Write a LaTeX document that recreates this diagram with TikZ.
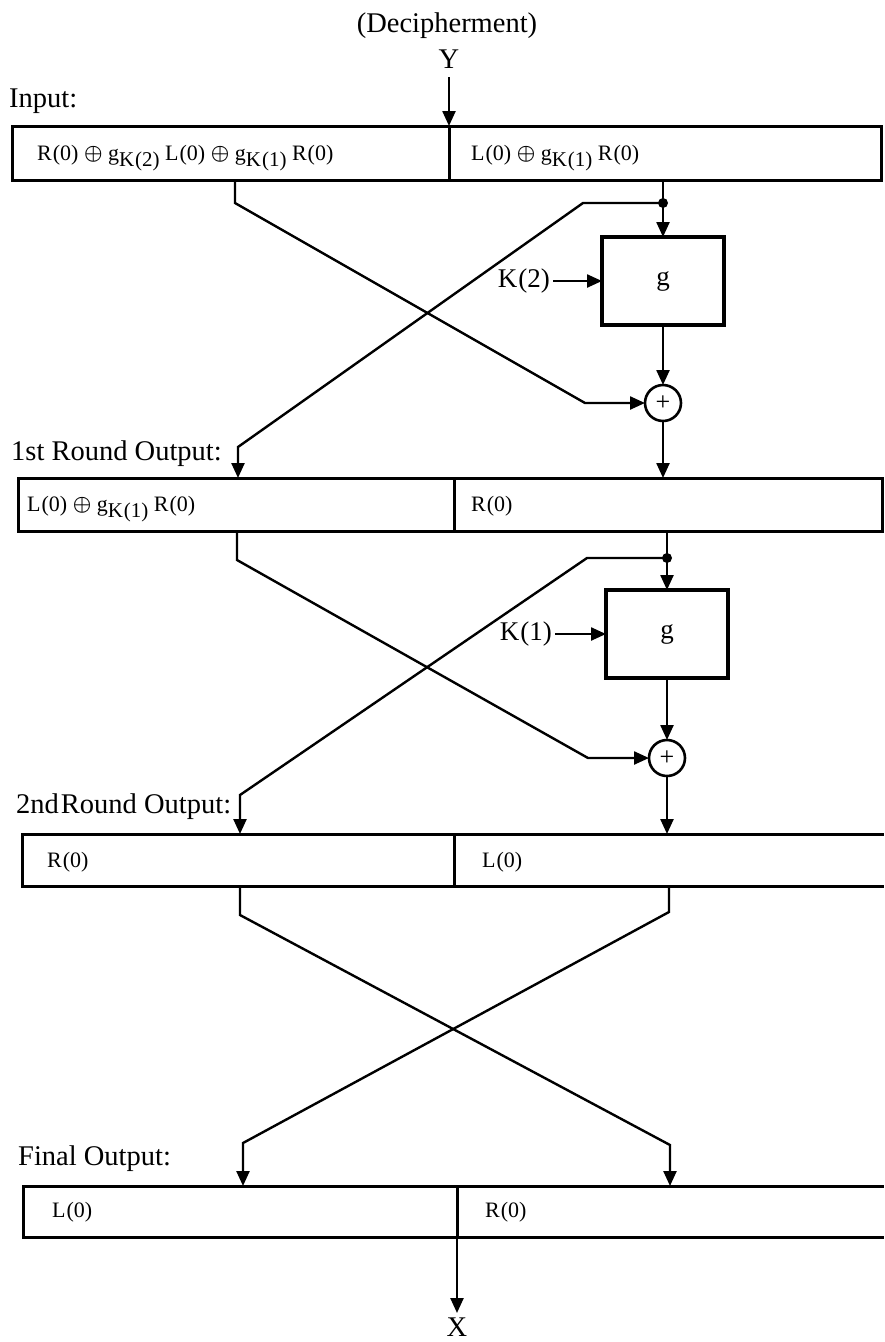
\documentclass[tikz,border=0pt]{standalone}
\usepackage{fontspec}
\setmainfont{Liberation Serif}
\usetikzlibrary{arrows.meta}
\newcommand{\gsubk}[1]{g\raisebox{-6pt}{\fontsize{21}{23}\selectfont K\kern1pt(#1)}}
\newcommand{\zz}[1]{#1\kern1pt(0)}
\newcommand{\xo}{\raisebox{0.5pt}{\fontsize{22}{24}\selectfont\boldmath$\oplus$}}
\tikzset{
 lbl/.style={font=\fontsize{28.5}{31}\selectfont, inner sep=0, anchor=base west},
 ctext/.style={font=\fontsize{22}{25}\selectfont, inner sep=0, anchor=base west},
 cell/.style={inner sep=0, outer sep=0, anchor=north west},
 framed/.style={draw, line width=3pt},
 boxline/.style={line width=3pt},
 wire/.style={line width=2.4pt},
 arr/.style={wire, -{Triangle[length=15pt,width=13pt]}},
 gbox/.style={draw, line width=3.2pt, outer sep=0, minimum width=122pt, minimum height=88pt, inner sep=0, font=\fontsize{27}{29}\selectfont},
 xorc/.style={circle, draw, line width=2.6pt, outer sep=0, minimum size=36pt, inner sep=0, font=\fontsize{26}{28}\selectfont},
 dotn/.style={circle, fill, minimum size=10pt, inner sep=0},
 keylbl/.style={font=\fontsize{27}{29}\selectfont, inner sep=3pt, anchor=east},
}
\begin{document}
\begin{tikzpicture}[x=1pt,y=-1pt]
\useasboundingbox (0,0) rectangle (884,1342);
% titles
\node[lbl, anchor=base] (title) at (447,32) {(Decipherment)};
\node[lbl, anchor=base] (Y) at (449,68) {Y};
\node[lbl] (inlbl) at (9,107) {Input:};
\node[lbl] (r1lbl) at (11,460) {1st Round Output:};
\node[lbl] (r2lbl) at (16,813) {2nd\kern2pt Round Output:};
\node[lbl] (fnlbl) at (18,1165) {Final Output:};
% input box
\node[cell, framed, minimum width=437pt, minimum height=54pt] (inL) at (12,126) {};
\node[cell, framed, minimum width=432pt, minimum height=54pt] (inR) at (449,126) {};
\node[ctext] (inLt) at (37,160) {\zz{R} \xo{} \gsubk{2} \zz{L} \xo{} \gsubk{1} \zz{R}};
\node[ctext] (inRt) at (471,160) {\zz{L} \xo{} \gsubk{1} \zz{R}};
% round 1 box
\node[cell, framed, minimum width=436pt, minimum height=53pt] (b1L) at (18,478) {};
\node[cell, framed, minimum width=428pt, minimum height=53pt] (b1R) at (454,478) {};
\node[ctext] (b1Lt) at (27,511) {\zz{L} \xo{} \gsubk{1} \zz{R}};
\node[ctext] (b1Rt) at (471,511) {\zz{R}};
% round 2 box (open right)
\node[cell, framed, minimum width=432pt, minimum height=52pt] (b2L) at (22,834) {};
\node[cell, minimum width=430pt, minimum height=52pt] (b2R) at (454,834) {};
\draw[boxline] (b2L.north east) -- (b2R.north east);
\draw[boxline] (b2L.south east) -- (b2R.south east);
\node[ctext] (b2Lt) at (47,867) {\zz{R}};
\node[ctext] (b2Rt) at (482,867) {\zz{L}};
% final box (open right)
\node[cell, framed, minimum width=434pt, minimum height=51pt] (fL) at (23,1186) {};
\node[cell, minimum width=427pt, minimum height=51pt] (fR) at (457,1186) {};
\draw[boxline] (fL.north east) -- (fR.north east);
\draw[boxline] (fL.south east) -- (fR.south east);
\node[ctext] (fLt) at (52,1217) {\zz{L}};
\node[ctext] (fRt) at (485,1217) {\zz{R}};
\node[lbl, anchor=north] (X) at (457,1318) {X};
% Y and X arrows
\coordinate (ystart) at (449,77);
\draw[arr] (ystart) -- (ystart |- inL.north);
\draw[arr] (X.north |- fL.south) -- ([yshift=5pt]X.north);
% ---- round 1 ----
\node[gbox] (g1) at (663,281) {g};
\node[xorc] (c1) at (663,403) {+};
\node[dotn] (d1) at (663,203) {};
\node[keylbl] (k2) at (553,281) {K\kern1pt(2)};
\coordinate (r1a) at (235,203);
\coordinate (r1b) at (585,403);
\draw[arr] (inL.south -| r1a) -- (r1a) -- (r1b) -- (c1);
\draw[wire] (inR.south -| d1) -- (d1.center);
\draw[arr] (d1.center) -- (g1);
\coordinate (l1a) at (583,203);
\coordinate (l1b) at (238,447);
\draw[arr] (d1.center) -- (l1a) -- (l1b) -- (l1b |- b1L.north);
\draw[arr] (k2) -- (g1);
\draw[arr] (g1) -- (c1);
\draw[arr] (c1) -- (c1 |- b1R.north);
% ---- round 2 ----
\node[gbox] (g2) at (667,634) {g};
\node[xorc] (c2) at (667,758) {+};
\node[dotn] (d2) at (667,558) {};
\node[keylbl] (k1) at (555,634) {K\kern1pt(1)};
\coordinate (r2a) at (237,560);
\coordinate (r2b) at (588,758);
\draw[arr] (b1L.south -| r2a) -- (r2a) -- (r2b) -- (c2);
\draw[wire] (b1R.south -| d2) -- (d2.center);
\draw[arr] (d2.center) -- (g2);
\coordinate (l2a) at (587,558);
\coordinate (l2b) at (240,795);
\draw[arr] (d2.center) -- (l2a) -- (l2b) -- (l2b |- b2L.north);
\draw[arr] (k1) -- (g2);
\draw[arr] (g2) -- (c2);
\draw[arr] (c2) -- (c2 |- b2R.north);
% ---- swap ----
\coordinate (s1a) at (240,915);
\coordinate (s1b) at (670,1145);
\draw[arr] (b2L.south -| s1a) -- (s1a) -- (s1b) -- (s1b |- fR.north);
\coordinate (s2a) at (669,912);
\coordinate (s2b) at (243,1143);
\draw[arr] (b2R.south -| s2a) -- (s2a) -- (s2b) -- (s2b |- fL.north);
\end{tikzpicture}
\end{document}
